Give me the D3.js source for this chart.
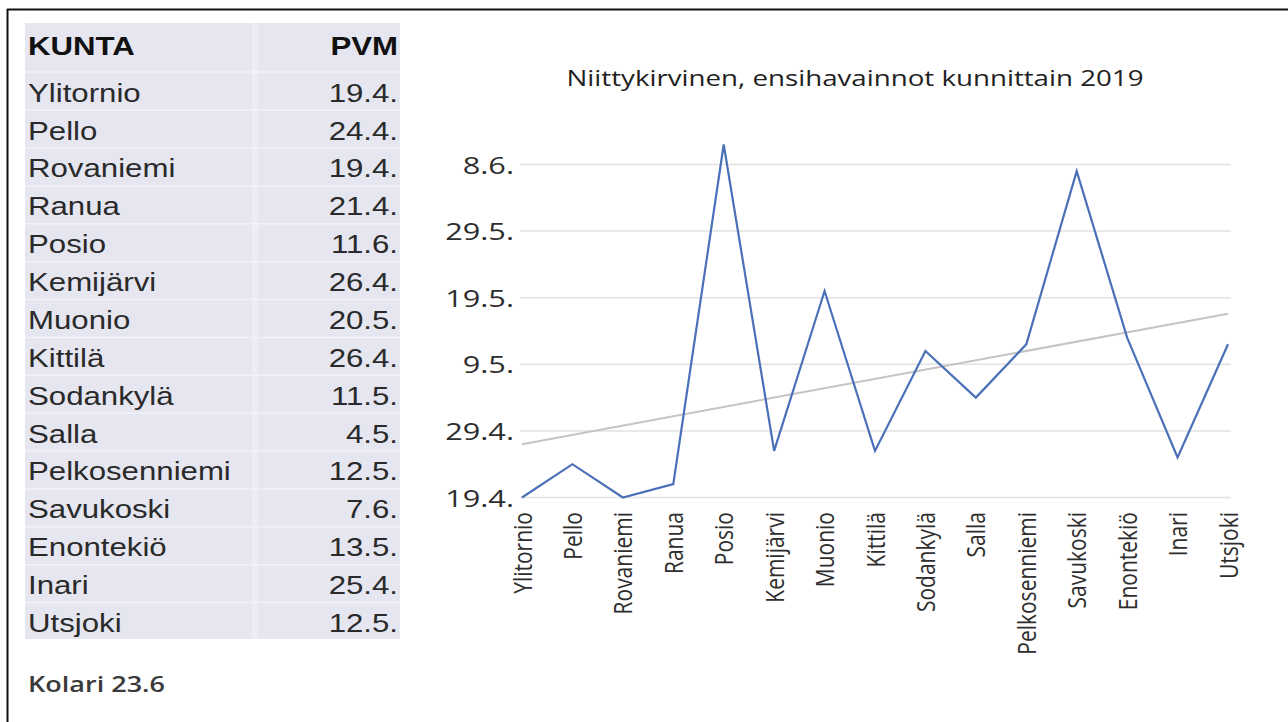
<!DOCTYPE html>
<html>
<head>
<meta charset="utf-8">
<script src="https://cdn.jsdelivr.net/npm/d3@7"></script>
<style>
  html, body { margin: 0; padding: 0; background: #ffffff; }
  svg { display: block; }
</style>
</head>
<body>
<svg id="chart" width="1288" height="722"></svg>
<script>
// ---- data ----
const municipalities = ["Ylitornio","Pello","Rovaniemi","Ranua","Posio","Kemijärvi","Muonio","Kittilä","Sodankylä","Salla","Pelkosenniemi","Savukoski","Enontekiö","Inari","Utsjoki"];
const firstDates = ["19.4.","24.4.","19.4.","21.4.","11.6.","26.4.","20.5.","26.4.","11.5.","4.5.","12.5.","7.6.","13.5.","25.4.","12.5."];
const yTickLabels = ["19.4.","29.4.","9.5.","19.5.","29.5.","8.6."];
const tableHeaders = ["KUNTA","PVM"];
const chartTitle = "Niittykirvinen, ensihavainnot kunnittain 2019";
const noteText = "Kolari 23.6";
const year = 2019;

const parseDM = s => { const p = s.split("."); return new Date(year, +p[1] - 1, +p[0]); };

const svg = d3.select("#chart");

// ---- outer frame (top + left) ----
svg.append("line").attr("x1", 7).attr("x2", 1288).attr("y1", 9.5).attr("y2", 9.5)
  .attr("stroke", "#111").attr("stroke-width", 2);
svg.append("line").attr("x1", 7.5).attr("x2", 7.5).attr("y1", 9).attr("y2", 722)
  .attr("stroke", "#111").attr("stroke-width", 2);

// ---- table ----
const tbl = svg.append("g");
const tLeft = 25, tRight = 400, tTop = 23;
const rowY = d3.scaleLinear().domain([0, municipalities.length - 1]).range([101.7, 632]);
const tBottom = rowY(municipalities.length - 1) + 7;
tbl.append("rect").attr("x", tLeft).attr("y", tTop).attr("width", tRight - tLeft).attr("height", tBottom - tTop)
  .attr("fill", "#e5e6f0");
tbl.append("rect").attr("x", 252).attr("y", tTop).attr("width", 6).attr("height", tBottom - tTop)
  .attr("fill", "#edeef5");
// row separators
const seps = [72].concat(municipalities.slice(0, -1).map((d, i) => rowY(i) + 8.5));
tbl.selectAll("line.sep").data(seps).join("line").attr("class", "sep")
  .attr("x1", tLeft).attr("x2", tRight).attr("y1", d => d).attr("y2", d => d)
  .attr("stroke", "#f1f2f8").attr("stroke-width", 1.5);

const tScale = 1.2;
const tblFont = "'Liberation Sans', Arial, sans-serif";
tbl.selectAll("text.hdr").data(tableHeaders).join("text").attr("class", "hdr")
  .attr("transform", (d, i) => `translate(${i === 0 ? 28 : 398},55) scale(${tScale},1)`)
  .attr("text-anchor", (d, i) => i === 0 ? "start" : "end")
  .style("font-family", tblFont).style("font-size", "26px").style("font-weight", "bold")
  .attr("fill", "#111").text(d => d);
tbl.selectAll("text.name").data(municipalities).join("text").attr("class", "name")
  .attr("transform", (d, i) => `translate(28,${rowY(i)}) scale(${tScale},1)`)
  .style("font-family", tblFont).style("font-size", "26px").attr("fill", "#2a2a2a").text(d => d);
tbl.selectAll("text.date").data(firstDates).join("text").attr("class", "date")
  .attr("transform", (d, i) => `translate(398,${rowY(i)}) scale(${tScale},1)`)
  .attr("text-anchor", "end")
  .style("font-family", tblFont).style("font-size", "26px").attr("fill", "#2a2a2a").text(d => d);

const chartFont = "'Open Sans', 'Noto Sans', sans-serif";
svg.append("text").attr("x", 28).attr("y", 692)
  .attr("textLength", 137).attr("lengthAdjust", "spacingAndGlyphs")
  .style("font-family", chartFont).style("font-size", "22px").style("font-weight", "600")
  .attr("fill", "#3a3a3a").text(noteText);

// ---- chart ----
const x = d3.scalePoint().domain(municipalities).range([522, 1228]);
const y = d3.scaleTime().domain([parseDM(yTickLabels[0]), parseDM(yTickLabels[yTickLabels.length - 1])])
  .range([497.5, 164.5]);

svg.append("text").attr("x", 855).attr("y", 86).attr("text-anchor", "middle")
  .attr("textLength", 577).attr("lengthAdjust", "spacingAndGlyphs")
  .style("font-family", chartFont).style("font-size", "22px").attr("fill", "#222").text(chartTitle);

const tickDates = yTickLabels.map(parseDM);
// gridlines
svg.append("g").selectAll("line").data(tickDates).join("line")
  .attr("x1", 520).attr("x2", 1231).attr("y1", d => y(d)).attr("y2", d => y(d))
  .attr("stroke", "#e2e2e2").attr("stroke-width", 1.5);

// y tick labels via axis
const yAxis = d3.axisLeft(y).tickValues(tickDates).tickFormat((d, i) => yTickLabels[i]).tickSize(0).tickPadding(0);
const yg = svg.append("g").attr("transform", "translate(514,0)").call(yAxis);
yg.select(".domain").remove();
yg.selectAll("text")
  .attr("x", null).attr("dy", null)
  .attr("transform", "translate(0,8.5) scale(1.28,1)")
  .style("font-family", chartFont).style("font-size", "24px").attr("fill", "#2e2e2e");

// trendline (linear regression)
const tx = municipalities.map((d, i) => i);
const ty = firstDates.map(s => +parseDM(s));
const mx = d3.mean(tx), my = d3.mean(ty);
const slope = d3.sum(tx, (v, i) => (v - mx) * (ty[i] - my)) / d3.sum(tx, v => (v - mx) ** 2);
const icpt = my - slope * mx;
const n = municipalities.length;
svg.append("line")
  .attr("x1", x(municipalities[0])).attr("y1", y(new Date(icpt)))
  .attr("x2", x(municipalities[n - 1])).attr("y2", y(new Date(icpt + slope * (n - 1))))
  .attr("stroke", "#c4c4c4").attr("stroke-width", 2);

// series line
const line = d3.line().x((d, i) => x(municipalities[i])).y(d => y(parseDM(d)));
svg.append("path").datum(firstDates).attr("d", line)
  .attr("fill", "none").attr("stroke", "#4a70b8").attr("stroke-width", 2.2).attr("stroke-linejoin", "miter");

// category labels via axis
const xAxis = d3.axisBottom(x).tickSize(0).tickPadding(0);
const xg = svg.append("g").attr("transform", "translate(0,512)").call(xAxis);
xg.select(".domain").remove();
xg.selectAll("text")
  .attr("y", null).attr("dy", null)
  .attr("text-anchor", "end")
  .attr("transform", "scale(1.2,1) rotate(-90)")
  .attr("dy", "0.36em")
  .style("font-family", chartFont).style("font-size", "21px").attr("fill", "#2e2e2e");
</script>
</body>
</html>
